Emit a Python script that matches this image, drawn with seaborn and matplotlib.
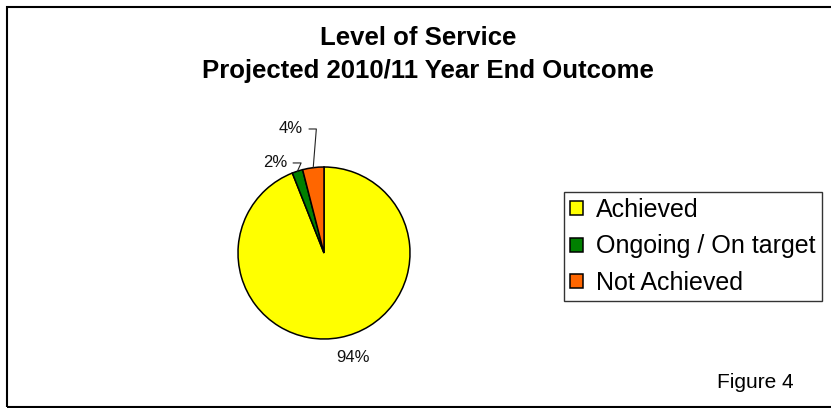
import numpy as np
import matplotlib
matplotlib.use("Agg")
import matplotlib.pyplot as plt
import seaborn as sns
from matplotlib.patches import Rectangle

# ---- data ----
categories = ["Achieved", "Ongoing / On target", "Not Achieved"]
values = [94, 2, 4]
pct_labels = ["94%", "2%", "4%"]
colors_hex = ["#FFFF00", "#008000", "#FF6600"]
title_lines = ["Level of Service", "Projected 2010/11 Year End Outcome"]
footer = "Figure 4"

sns.set_theme(style="white")
plt.rcParams["font.family"] = ["Liberation Sans", "DejaVu Sans"]
palette = sns.color_palette(colors_hex)

W, H = 831, 408
fig = plt.figure(figsize=(W / 100, H / 100), dpi=100)
fig.patch.set_facecolor("white")

# pie axes: centre (324, 253) px, radius 86 px
cx, cy, r = 324, 253, 86
ax = fig.add_axes([(cx - r) / W, (H - cy - r) / H, 2 * r / W, 2 * r / H])
wedges, _ = ax.pie(values, colors=palette, startangle=90, counterclock=False,
                   radius=1.0,
                   wedgeprops=dict(edgecolor="black", linewidth=1.1))
ax.set_xlim(-1, 1)
ax.set_ylim(-1, 1)
ax.set_aspect("equal")
ax.axis("off")

# label placement (text positions in radius units)
text_pos = {0: (0.337, -1.22), 1: (-0.43, 1.047), 2: (-0.245, 1.442)}
angle_b = {1: 66, 2: 85.4}
for i, w in enumerate(wedges):
    mid = np.deg2rad((w.theta1 + w.theta2) / 2)
    ex, ey = np.cos(mid), np.sin(mid)
    tx, ty = text_pos[i]
    if i == 0:
        ax.text(tx, ty, pct_labels[i], ha="center", va="center", fontsize=12,
                color="#111111", clip_on=False)
    else:
        ax.annotate(pct_labels[i], xy=(ex, ey), xytext=(tx, ty),
                    ha="right", va="center", fontsize=12, color="#111111",
                    annotation_clip=False,
                    arrowprops=dict(arrowstyle="-", color="#222222", lw=0.8,
                                    relpos=(1, 0.5), shrinkA=2, shrinkB=0,
                                    connectionstyle=f"angle,angleA=0,angleB={angle_b[i]},rad=0"))

# title
fig.text(418 / W, 1 - 38 / H, title_lines[0], ha="center", va="center",
         fontsize=18.5, fontweight="bold", color="black")
fig.text(428 / W, 1 - 71 / H, title_lines[1], ha="center", va="center",
         fontsize=18.5, fontweight="bold", color="black")

# legend
leg = fig.legend(wedges, categories, loc="upper left",
                 bbox_to_anchor=(564 / W, 1 - 192 / H),
                 fontsize=18, frameon=True, fancybox=False,
                 handlelength=0.5, handleheight=0.5, handletextpad=0.55,
                 labelspacing=0.5, borderpad=0.24, borderaxespad=0)
leg.get_frame().set_edgecolor("black")
leg.get_frame().set_linewidth(1.0)
for t in leg.get_texts():
    t.set_color("black")

# footer
fig.text(755 / W, 1 - 382 / H, footer, ha="center", va="center",
         fontsize=15, color="black")

# outer border
fig.add_artist(Rectangle((6.5 / W, (H - 407) / H), (W + 10) / W, (407 - 6.5) / H,
                         transform=fig.transFigure, fill=False,
                         edgecolor="black", linewidth=1.5, clip_on=False))

fig.savefig("out.png", dpi=100, facecolor="white")
